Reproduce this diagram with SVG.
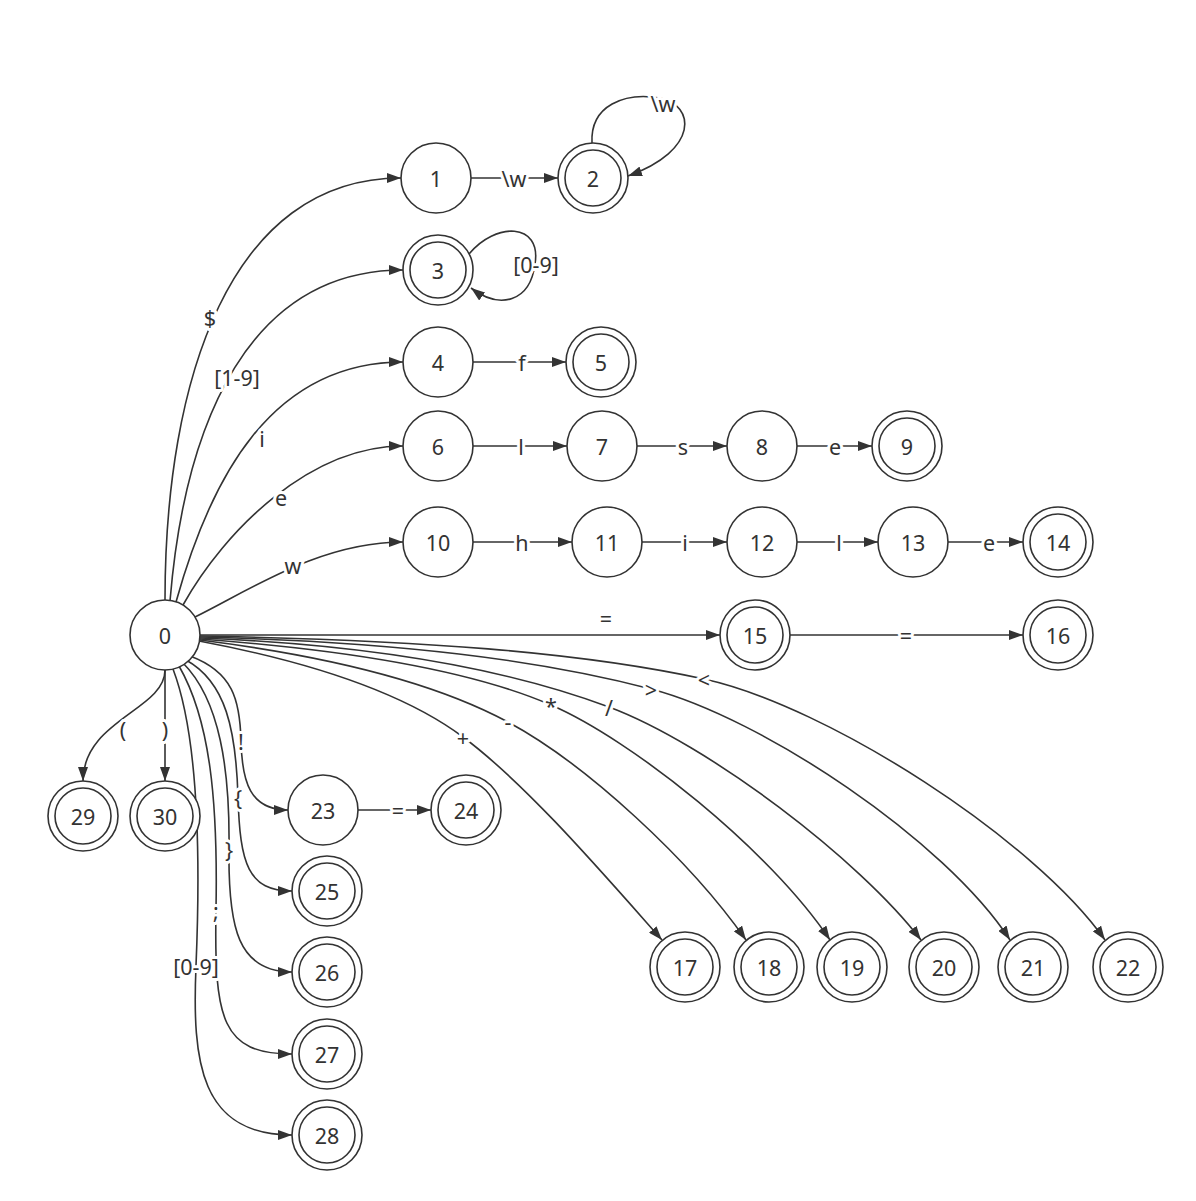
<svg xmlns="http://www.w3.org/2000/svg" width="1196" height="1201" viewBox="0 0 1196 1201">
<style>
  .n circle { fill: #fff; stroke: #333; stroke-width: 1.6; }
  .n text { font-family: "Noto Sans", "DejaVu Sans", sans-serif; font-size: 21.5px; fill: #333; text-anchor: middle; dominant-baseline: central; }
  .e path { fill: none; stroke: #333; stroke-width: 1.6; marker-end: url(#arr); }
  .e text { font-family: "Noto Sans", "DejaVu Sans", sans-serif; font-size: 21.5px; fill: #333; text-anchor: middle; dominant-baseline: central; stroke: #fff; stroke-width: 6; paint-order: stroke; stroke-linejoin: round; }
</style>
<defs>
  <marker id="arr" markerUnits="userSpaceOnUse" markerWidth="14" markerHeight="10" refX="14" refY="5" orient="auto">
    <path d="M0,0 L14,5 L0,10 z" fill="#333"/>
  </marker>
</defs>
<rect width="1196" height="1201" fill="#fff"/>
<g id="edges" class="e">
  <path d="M165,600 C165,380 230,178 401,178"/>
  <text x="210" y="317">$</text>
  <path d="M170,601 C185,420 250,270 403,270"/>
  <text x="237" y="377">[1-9]</text>
  <path d="M176,602 C210,480 270,362 403,362"/>
  <text x="262" y="438">i</text>
  <path d="M183,605 C225,530 310,446 403,446"/>
  <text x="281" y="497">e</text>
  <path d="M195,617 C250,590 320,542 403,542"/>
  <text x="293" y="565">w</text>
  <path d="M200,635 L720,635"/>
  <text x="606" y="618">=</text>
  <path d="M199,641 C300,660 400,690 463,737 S 600,870 662,940"/>
  <text x="463" y="737">+</text>
  <path d="M200,640 C320,655 430,680 508,722 S 690,860 746,940"/>
  <text x="508" y="721">-</text>
  <path d="M200,639 C350,650 470,670 551,705 S 770,850 830,940"/>
  <text x="551" y="705">*</text>
  <path d="M200,638 C380,645 510,670 609,707 S 860,860 921,940"/>
  <text x="609" y="707">/</text>
  <path d="M200,637 C400,642 540,660 651,689 S 945,840 1010,940"/>
  <text x="651" y="689">&gt;</text>
  <path d="M200,636 C420,640 580,652 704,679 S 1035,840 1105,940"/>
  <text x="704" y="679">&lt;</text>
  <path d="M165,670 C165,710 83,720 83,781"/>
  <text x="123" y="729">(</text>
  <path d="M165,670 L165,781"/>
  <text x="165" y="729">)</text>
  <path d="M190,656 C233,672 240,700 241,741 S 250,810 288,810"/>
  <text x="241" y="741">!</text>
  <path d="M186,660 C226,682 236,730 238,797 S 248,891 292,891"/>
  <text x="238" y="797">{</text>
  <path d="M183,663 C220,700 230,770 229,849 S 238,972 292,972"/>
  <text x="229" y="849">}</text>
  <path d="M179,666 C210,720 218,800 216,910 S 222,1054 292,1054"/>
  <text x="216" y="910">;</text>
  <path d="M173,669 C200,740 200,870 196,966 S 200,1135 292,1135"/>
  <text x="196" y="966">[0-9]</text>
  <path d="M471,178 L558,178"/>
  <text x="514" y="178">\w</text>
  <path d="M592,143 C590,105 625,92 660,98 C695,105 700,150 628,176"/>
  <text x="663" y="103">\w</text>
  <path d="M469,254 C495,222 542,222 535,264 C530,302 500,310 471,288"/>
  <text x="536" y="264">[0-9]</text>
  <path d="M473,362 L566,362"/>
  <text x="522" y="362">f</text>
  <path d="M473,446 L567,446"/>
  <text x="521" y="446">l</text>
  <path d="M637,446 L727,446"/>
  <text x="683" y="446">s</text>
  <path d="M797,446 L872,446"/>
  <text x="835" y="446">e</text>
  <path d="M473,542 L572,542"/>
  <text x="522" y="542">h</text>
  <path d="M642,542 L727,542"/>
  <text x="685" y="542">i</text>
  <path d="M797,542 L878,542"/>
  <text x="839" y="542">l</text>
  <path d="M948,542 L1023,542"/>
  <text x="989" y="542">e</text>
  <path d="M790,635 L1023,635"/>
  <text x="906" y="635">=</text>
  <path d="M358,810 L431,810"/>
  <text x="398" y="810">=</text>
</g>
<g id="node-0" class="n"><circle cx="165" cy="635" r="35"/><text x="165" y="635">0</text></g>
<g id="node-1" class="n"><circle cx="436" cy="178" r="35"/><text x="436" y="178">1</text></g>
<g id="node-2" class="n"><circle cx="593" cy="178" r="35"/><circle cx="593" cy="178" r="28"/><text x="593" y="178">2</text></g>
<g id="node-3" class="n"><circle cx="438" cy="270" r="35"/><circle cx="438" cy="270" r="28"/><text x="438" y="270">3</text></g>
<g id="node-4" class="n"><circle cx="438" cy="362" r="35"/><text x="438" y="362">4</text></g>
<g id="node-5" class="n"><circle cx="601" cy="362" r="35"/><circle cx="601" cy="362" r="28"/><text x="601" y="362">5</text></g>
<g id="node-6" class="n"><circle cx="438" cy="446" r="35"/><text x="438" y="446">6</text></g>
<g id="node-7" class="n"><circle cx="602" cy="446" r="35"/><text x="602" y="446">7</text></g>
<g id="node-8" class="n"><circle cx="762" cy="446" r="35"/><text x="762" y="446">8</text></g>
<g id="node-9" class="n"><circle cx="907" cy="446" r="35"/><circle cx="907" cy="446" r="28"/><text x="907" y="446">9</text></g>
<g id="node-10" class="n"><circle cx="438" cy="542" r="35"/><text x="438" y="542">10</text></g>
<g id="node-11" class="n"><circle cx="607" cy="542" r="35"/><text x="607" y="542">11</text></g>
<g id="node-12" class="n"><circle cx="762" cy="542" r="35"/><text x="762" y="542">12</text></g>
<g id="node-13" class="n"><circle cx="913" cy="542" r="35"/><text x="913" y="542">13</text></g>
<g id="node-14" class="n"><circle cx="1058" cy="542" r="35"/><circle cx="1058" cy="542" r="28"/><text x="1058" y="542">14</text></g>
<g id="node-15" class="n"><circle cx="755" cy="635" r="35"/><circle cx="755" cy="635" r="28"/><text x="755" y="635">15</text></g>
<g id="node-16" class="n"><circle cx="1058" cy="635" r="35"/><circle cx="1058" cy="635" r="28"/><text x="1058" y="635">16</text></g>
<g id="node-17" class="n"><circle cx="685" cy="967" r="35"/><circle cx="685" cy="967" r="28"/><text x="685" y="967">17</text></g>
<g id="node-18" class="n"><circle cx="769" cy="967" r="35"/><circle cx="769" cy="967" r="28"/><text x="769" y="967">18</text></g>
<g id="node-19" class="n"><circle cx="852" cy="967" r="35"/><circle cx="852" cy="967" r="28"/><text x="852" y="967">19</text></g>
<g id="node-20" class="n"><circle cx="944" cy="967" r="35"/><circle cx="944" cy="967" r="28"/><text x="944" y="967">20</text></g>
<g id="node-21" class="n"><circle cx="1033" cy="967" r="35"/><circle cx="1033" cy="967" r="28"/><text x="1033" y="967">21</text></g>
<g id="node-22" class="n"><circle cx="1128" cy="967" r="35"/><circle cx="1128" cy="967" r="28"/><text x="1128" y="967">22</text></g>
<g id="node-23" class="n"><circle cx="323" cy="810" r="35"/><text x="323" y="810">23</text></g>
<g id="node-24" class="n"><circle cx="466" cy="810" r="35"/><circle cx="466" cy="810" r="28"/><text x="466" y="810">24</text></g>
<g id="node-25" class="n"><circle cx="327" cy="891" r="35"/><circle cx="327" cy="891" r="28"/><text x="327" y="891">25</text></g>
<g id="node-26" class="n"><circle cx="327" cy="972" r="35"/><circle cx="327" cy="972" r="28"/><text x="327" y="972">26</text></g>
<g id="node-27" class="n"><circle cx="327" cy="1054" r="35"/><circle cx="327" cy="1054" r="28"/><text x="327" y="1054">27</text></g>
<g id="node-28" class="n"><circle cx="327" cy="1135" r="35"/><circle cx="327" cy="1135" r="28"/><text x="327" y="1135">28</text></g>
<g id="node-29" class="n"><circle cx="83" cy="816" r="35"/><circle cx="83" cy="816" r="28"/><text x="83" y="816">29</text></g>
<g id="node-30" class="n"><circle cx="165" cy="816" r="35"/><circle cx="165" cy="816" r="28"/><text x="165" y="816">30</text></g>
</svg>
